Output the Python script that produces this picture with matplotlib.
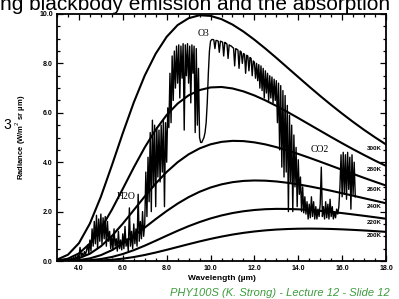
import numpy as np
import matplotlib
matplotlib.use("Agg")
import matplotlib.pyplot as plt
from matplotlib.ticker import MultipleLocator, FormatStrFormatter

plt.rcParams['font.family'] = ['Liberation Sans', 'DejaVu Sans']

# blackbody curves, every 0.5 um from 3 to 18 um
bb_wl = np.arange(3.0, 18.01, 0.5)
bb_temps = ['300K', '280K', '260K', '240K', '220K', '200K']
bb_300 = [0.056, 0.254, 0.722, 1.518, 2.602, 3.865, 5.176, 6.419, 7.508, 8.394, 9.077,
          9.552, 9.829, 9.950, 9.923, 9.791, 9.572, 9.289, 8.959, 8.601, 8.224, 7.835,
          7.446, 7.060, 6.683, 6.318, 5.967, 5.630, 5.309, 5.006, 4.718]
bb_280 = [0.018, 0.095, 0.307, 0.709, 1.312, 2.073, 2.923, 3.786, 4.598, 5.315, 5.910,
          6.373, 6.707, 6.920, 7.027, 7.045, 6.986, 6.867, 6.703, 6.504, 6.280, 6.038,
          5.787, 5.530, 5.274, 5.018, 4.768, 4.525, 4.291, 4.065, 3.850]
bb_260 = [0.005, 0.031, 0.114, 0.295, 0.595, 1.010, 1.513, 2.061, 2.614, 3.137, 3.604,
          4.000, 4.318, 4.558, 4.724, 4.823, 4.864, 4.854, 4.803, 4.721, 4.610, 4.480,
          4.335, 4.181, 4.020, 3.856, 3.691, 3.527, 3.365, 3.208, 3.055]
bb_240 = [0.001, 0.008, 0.036, 0.106, 0.237, 0.437, 0.701, 1.014, 1.352, 1.696, 2.024,
          2.324, 2.585, 2.802, 2.975, 3.103, 3.191, 3.242, 3.260, 3.252, 3.220, 3.168,
          3.102, 3.023, 2.936, 2.843, 2.744, 2.644, 2.541, 2.440, 2.338]
bb_220 = [0.000, 0.002, 0.009, 0.032, 0.080, 0.162, 0.283, 0.438, 0.621, 0.820, 1.024,
          1.223, 1.410, 1.577, 1.723, 1.844, 1.941, 2.014, 2.065, 2.097, 2.110, 2.107,
          2.092, 2.066, 2.030, 1.987, 1.939, 1.885, 1.829, 1.771, 1.711]
bb_200 = [0.000, 0.000, 0.002, 0.007, 0.022, 0.049, 0.095, 0.160, 0.244, 0.343, 0.452,
          0.567, 0.681, 0.792, 0.895, 0.988, 1.070, 1.139, 1.195, 1.240, 1.273, 1.294,
          1.307, 1.311, 1.307, 1.297, 1.281, 1.260, 1.236, 1.209, 1.180]

# measured spectrum, one value every 0.05 um from 3.5 to 16.6 um
spec_rad = [
    0.02, 0.06, 0.03, 0.1, 0.05, 0.14, 0.08, 0.18, 0.1, 0.22,                                   # 3.5
    0.15, 0.55, 0.2, 0.32, 0.18, 0.38, 0.25, 0.45, 0.65, 0.3,
    0.85, 0.4, 1.3, 0.6, 1.6, 0.7, 1.85, 0.5, 1.7, 0.8,                                         # 4
    1.9, 0.7, 1.75, 0.9, 1.8, 0.6, 1.6, 0.8, 1.2, 0.5,
    1.0, 0.45, 1.3, 0.6, 0.9, 0.4, 1.2, 0.5, 0.85, 0.45,                                        # 5
    1.1, 0.5, 1.4, 0.6, 0.9, 0.4, 2.15, 0.6, 1.2, 0.5,
    1.5, 0.7, 1.3, 0.6, 2.7, 0.8, 1.6, 0.9, 2.0, 1.0,                                           # 6
    1.5, 3.6, 1.8, 4.2, 2.4, 5.2, 2.0, 5.7, 3.0, 5.5,
    2.2, 5.4, 3.4, 5.3, 3.2, 5.5, 3.6, 5.7, 2.2, 5.6,                                           # 7
    4.0, 6.2, 5.4, 7.6, 5.6, 8.3, 6.5, 8.5, 7.0, 8.7,
    7.2, 8.75, 6.6, 8.7, 7.4, 8.8, 5.3, 8.75, 7.5, 8.8,                                         # 8
    7.2, 8.7, 6.4, 8.75, 7.6, 8.7, 5.2, 8.6, 5.5, 7.8,
    5.0, 4.8, 4.8, 4.9, 5.0, 5.2, 5.6, 6.4, 7.6, 8.5,                                           # 9
    8.9, 8.96, 8.97, 8.95, 8.6, 8.93, 8.92, 8.9, 8.45, 8.9,
    8.88, 8.86, 8.3, 8.85, 8.82, 8.78, 8.2, 8.75, 8.72, 8.7,                                    # 10
    8.65, 8.62, 7.9, 8.6, 8.57, 8.54, 7.8, 8.5, 8.46, 8.0,
    8.4, 8.37, 7.6, 8.33, 8.3, 7.7, 8.24, 8.2, 7.5, 8.1,                                        # 11
    8.05, 7.4, 8.0, 7.3, 7.95, 7.0, 7.9, 6.9, 7.8, 6.6,
    7.7, 6.8, 7.6, 6.5, 7.5, 6.6, 7.45, 6.4, 7.36, 6.5,                                         # 12
    7.3, 5.6, 7.2, 4.5, 7.1, 3.8, 6.9, 3.4, 6.7, 3.6,
    6.3, 2.0, 5.9, 3.2, 5.5, 2.0, 5.1, 3.0, 4.6, 2.2,                                           # 13
    4.1, 2.7, 3.4, 2.0, 3.0, 1.95, 2.6, 1.9, 2.4, 1.7,
    2.3, 1.75, 2.6, 1.8, 2.4, 1.7, 2.2, 1.7, 2.1, 1.8,                                          # 14
    2.3, 3.8, 1.8, 2.2, 1.7, 2.4, 1.75, 2.3, 1.7, 2.5,
    1.8, 2.2, 1.7, 2.0, 1.75, 2.1, 1.9, 2.2, 3.0, 4.3,                                          # 15
    2.6, 4.4, 2.7, 4.3, 2.5, 4.4, 2.9, 4.2, 2.1, 4.3, 2.7, 4.0, 2.6,                            # 16
]
spec_wl = np.linspace(3.5, 16.6, len(spec_rad))

# band labels
band_names = ['H2O', 'O3', 'CO2']
band_x = [6.15, 9.7, 15.0]
band_y = [2.6, 9.2, 4.5]

fig = plt.figure(figsize=(3.99, 2.99), dpi=100)
ax = fig.add_axes([57 / 399, 1 - 261 / 299, 329 / 399, 247 / 299])

for lab, vals in zip(bb_temps, [bb_300, bb_280, bb_260, bb_240, bb_220, bb_200]):
    ax.plot(bb_wl, vals, color='black', lw=1.5, solid_capstyle='round')
    ax.text(17.8, vals[-1] - 0.15, lab, fontsize=4.5, fontweight='bold',
            ha='right', va='center')

ax.plot(spec_wl, spec_rad, color='black', lw=1.0)

for name, x, y in zip(band_names, band_x, band_y):
    ax.text(x, y, name, fontsize=7, family='Liberation Serif', ha='center', va='center')

ax.set_xlim(3, 18)
ax.set_ylim(0, 10)
ax.xaxis.set_major_locator(MultipleLocator(2))
ax.xaxis.set_minor_locator(MultipleLocator(0.5))
ax.yaxis.set_major_locator(MultipleLocator(2))
ax.yaxis.set_minor_locator(MultipleLocator(0.5))
ax.xaxis.set_major_formatter(FormatStrFormatter('%.1f'))
ax.yaxis.set_major_formatter(FormatStrFormatter('%.1f'))
ax.tick_params(which='both', direction='in', top=True, right=True, width=0.9)
ax.tick_params(which='major', length=4, labelsize=5, pad=3)
ax.tick_params(which='minor', length=2.5)
for t in ax.get_xticklabels() + ax.get_yticklabels():
    t.set_fontweight('bold')
for s in ax.spines.values():
    s.set_linewidth(1.3)

ax.set_xlabel('Wavelength (µm)', fontsize=6, fontweight='bold', labelpad=2)
ax.set_ylabel('Radiance (W/m$^2$ sr µm)', fontsize=5.5, fontweight='bold', labelpad=8)

# slide leftovers
fig.text(0.0, 1 - 10 / 299, 'ng blackbody emission and the absorption', fontsize=15,
         ha='left', va='baseline')
fig.text(7 / 399, 1 - 125 / 299, '3', fontsize=10, ha='center', va='center')
fig.text(390 / 399, 1 - 296 / 299, 'PHY100S (K. Strong) - Lecture 12 - Slide 12',
         fontsize=8, style='italic', color='#3c9c3c', ha='right', va='baseline')

fig.savefig('out.png', dpi=100)
